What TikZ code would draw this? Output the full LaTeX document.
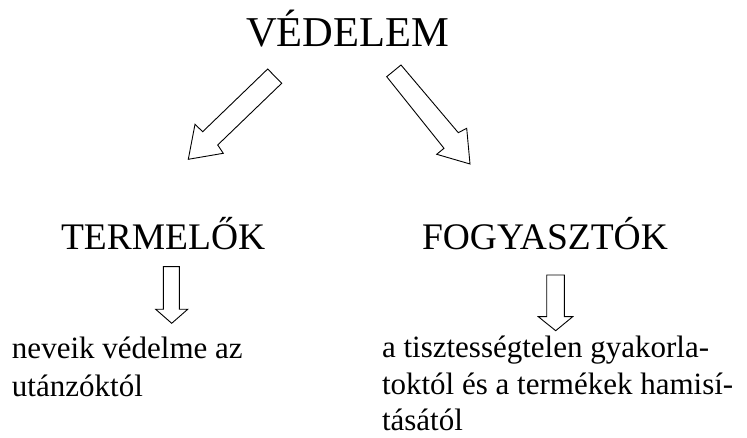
\documentclass[tikz,border=0pt]{standalone}
\usepackage{fontspec}
\setmainfont{Liberation Serif}
\begin{document}
\begin{tikzpicture}[x=1pt,y=-1pt,
  txt/.style={anchor=base west,inner sep=0pt,outer sep=0pt},
  big/.style={txt,font=\fontsize{42.5}{50}\selectfont},
  mid/.style={txt,font=\fontsize{37.5}{44}\selectfont},
  small/.style={txt,font=\fontsize{31}{37}\selectfont},
  blockarrow/.style={draw=black,line width=0.9pt,fill=white,line join=miter}]
\useasboundingbox (0,0) rectangle (747,438);
\node[big] (ved) at (246,47) {VÉDELEM};
\node[mid] (term) at (61,250) {TERMELŐK};
\node[mid] (fogy) at (422,250) {FOGYASZTÓK};
\node[small] (l1) at (12,358) {neveik védelme az};
\node[small] (l2) at (12,396) {utánzóktól};
\node[small] (r1) at (382,357) {a tisztességtelen gyakorla-};
\node[small] (r2) at (382,394) {toktól és a termékek hamisí-};
\node[small] (r3) at (382,430) {tásától};
% left diagonal arrow
\draw[blockarrow] (267.7,69) -- (281.7,83.3) -- (217.7,145) -- (223.3,153.3)
  -- (188.3,159.3) -- (195,124.3) -- (202.7,131.7) -- cycle;
% right diagonal arrow
\draw[blockarrow] (386.7,76.7) -- (401,65) -- (458.3,132.7) -- (466.7,128.3)
  -- (470,164) -- (436.7,154.3) -- (444,148.3) -- cycle;
% left down arrow
\draw[blockarrow] (163.3,266.7) -- (179.3,266.7) -- (179.3,309.3) -- (187.7,309.3)
  -- (171.7,323.3) -- (155.7,309.3) -- (163.3,309.3) -- cycle;
% right down arrow
\draw[blockarrow] (546.7,275) -- (564.3,275) -- (564.3,316.7) -- (572.7,316.7)
  -- (555.7,330.7) -- (538.3,316.7) -- (546.7,316.7) -- cycle;
\end{tikzpicture}
\end{document}
